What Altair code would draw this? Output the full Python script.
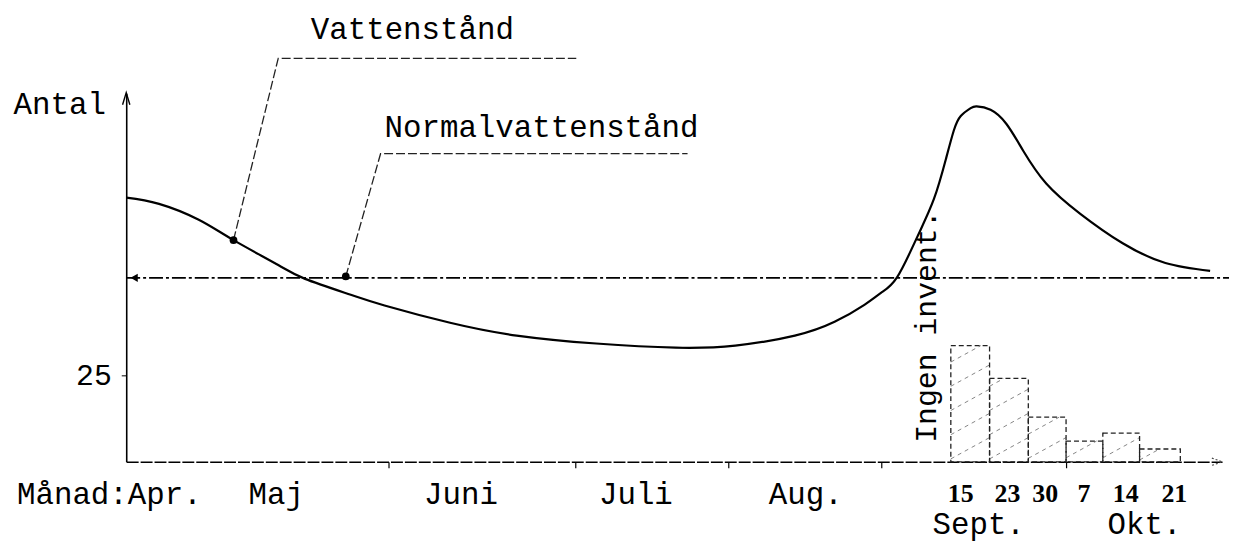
import altair as alt
import pandas as pd

# ---------------- data ----------------
# Vattenstånd curve (time position, level)
curve_t = [0, 3.3, 7.3, 10.8, 15.3, 18.0, 22.6, 26.0, 32.6, 39.3, 47.3, 55.3, 61.3, 67.3,
           71.3, 74.3, 76.0, 77.6, 79.6, 81.3, 82.5, 83.3, 84.0, 85.0, 85.6, 87.0, 88.6,
           90.3, 92.6, 96.0, 100.3, 104.6, 109.1]
curve_v = [76.4, 74.6, 70.0, 64.1, 56.9, 52.9, 48.3, 45.2, 40.2, 36.5, 34.2, 33.0, 33.6, 36.5,
           40.5, 45.4, 48.9, 53.4, 64.9, 76.0, 87.5, 95.8, 100.0, 102.3, 102.8, 101.8, 97.7,
           89.9, 80.5, 71.8, 63.2, 57.5, 55.2]

# Normalvattenstånd
normal_level = 53.2
normal_span = [0, 111]

# Antal (weekly counts, Sept.–Okt.)
bar_start = [83.0, 86.9, 90.8, 94.6, 98.3, 102.0]
bar_end = [86.9, 90.8, 94.6, 98.3, 102.0, 106.1]
bar_count = [33.6, 24.1, 12.9, 6.0, 8.3, 3.7]

# axis ticks
x_ticks = [26.4, 45.2, 60.6, 76.0, 94.6]
y_ticks = [25]

# month labels
month_names = ["Månad:Apr.", "Maj", "Juni", "Juli", "Aug."]
month_pos = [-1.7, 15.1, 33.7, 51.3, 68.4]
month_row = -9.6

# date labels
date_names = ["15", "23", "30", "7", "14", "21"]
date_pos = [84.0, 88.7, 92.5, 96.4, 100.6, 105.5]
date_row = -9.4

season_names = ["Sept.", "Okt."]
season_pos = [85.8, 102.5]
season_row = -18.4

# annotations (leader lines)
leader_id = ["Vattenstånd"] * 3 + ["Normalvattenstånd"] * 3
leader_step = [0, 1, 2, 0, 1, 2]
leader_t = [10.8, 15.3, 45.3, 22.1, 25.6, 56.5]
leader_v = [64.1, 116.7, 116.7, 53.6, 89.1, 89.1]

label_names = ["Vattenstånd", "Normalvattenstånd"]
label_t = [28.8, 41.8]
label_v = [125.0, 96.6]

# ---------------- chart ----------------
XMAX, YMAX = 110.3, 106.6
xs = alt.Scale(domain=[0, XMAX], nice=False, zero=False)
ys = alt.Scale(domain=[0, YMAX], nice=False, zero=False)
MONO = "Liberation Mono"
FS = 31


def X(f, **kw):
    return alt.X(f, type="quantitative", scale=xs, title=None, **kw)


def Y(f, **kw):
    return alt.Y(f, type="quantitative", scale=ys, title=None, **kw)


curve_df = pd.DataFrame({"t": curve_t, "v": curve_v})
curve = alt.Chart(curve_df).mark_line(color="black", strokeWidth=2.2,
                                      interpolate="natural").encode(
    x=X("t", axis=alt.Axis(values=x_ticks, labels=False, tickSize=6, tickColor="black",
                           tickWidth=1.2, domainColor="black", domainWidth=1.6,
                           domainDash=[12, 2], grid=False)),
    y=Y("v", axis=alt.Axis(values=y_ticks, tickSize=5, tickColor="black",
                           domainColor="black", domainWidth=1.6, grid=False,
                           labelFont=MONO, labelFontSize=30, labelColor="black",
                           labelPadding=10)),
)

normal_df = pd.DataFrame({"t0": [normal_span[0]], "t1": [normal_span[1]], "v": [normal_level]})
normal = alt.Chart(normal_df).mark_rule(color="black", strokeWidth=1.6,
                                        strokeDash=[14, 3, 3, 3]).encode(
    x=X("t0"), x2="t1", y=Y("v"))

bars_df = pd.DataFrame({"a": bar_start, "b": bar_end, "n": bar_count, "z": [0] * 6})
bars = alt.Chart(bars_df).mark_rect(fill="white", fillOpacity=0, stroke="#222",
                                    strokeWidth=1.3, strokeDash=[5, 3]).encode(
    x=X("a"), x2="b", y=Y("z"), y2="n")

# light hatching inside each bar, derived from the bar data
hatch_rows = []
for i, (a, b, n) in enumerate(zip(bar_start, bar_end, bar_count)):
    rise = (b - a) * 10 * 0.55 / 3.48  # slope of the hatch strokes in value units
    k = 0
    base = -rise
    while base < n:
        y0 = max(base, 0)
        y1 = min(base + rise, n)
        if y1 > y0:
            t0 = a + (y0 - base) / rise * (b - a)
            t1 = a + (y1 - base) / rise * (b - a)
            hatch_rows.append({"g": f"{i}-{k}", "t": t0, "v": y0, "o": 0})
            hatch_rows.append({"g": f"{i}-{k}", "t": t1, "v": y1, "o": 1})
        base += 7.0
        k += 1
hatch_df = pd.DataFrame(hatch_rows)
hatch = alt.Chart(hatch_df).mark_line(color="#777", strokeWidth=0.9,
                                      strokeDash=[4, 4]).encode(
    x=X("t"), y=Y("v"), detail="g:N", order="o:Q")

leader_df = pd.DataFrame({"id": leader_id, "s": leader_step, "t": leader_t, "v": leader_v})
leaders = alt.Chart(leader_df).mark_line(color="#222", strokeWidth=1.3,
                                         strokeDash=[9, 3]).encode(
    x=X("t"), y=Y("v"), detail="id:N", order="s:Q")
dots = alt.Chart(leader_df[leader_df.s == 0]).mark_circle(color="black", size=60,
                                                          opacity=1).encode(
    x=X("t"), y=Y("v"))

label_df = pd.DataFrame({"txt": label_names, "t": label_t, "v": label_v})
labels = alt.Chart(label_df).mark_text(font=MONO, fontSize=FS, color="black",
                                       baseline="middle").encode(
    x=X("t"), y=Y("v"), text="txt:N")

month_df = pd.DataFrame({"txt": month_names, "t": month_pos, "v": [month_row] * 5})
months = alt.Chart(month_df).mark_text(font=MONO, fontSize=FS, color="black",
                                       baseline="middle").encode(
    x=X("t"), y=Y("v"), text="txt:N")

date_df = pd.DataFrame({"txt": date_names, "t": date_pos, "v": [date_row] * 6})
dates = alt.Chart(date_df).mark_text(font="Liberation Serif", fontSize=26,
                                     fontWeight="bold", color="black",
                                     baseline="middle").encode(
    x=X("t"), y=Y("v"), text="txt:N")

season_df = pd.DataFrame({"txt": season_names, "t": season_pos, "v": [season_row] * 2})
seasons = alt.Chart(season_df).mark_text(font=MONO, fontSize=FS, color="black",
                                         baseline="middle").encode(
    x=X("t"), y=Y("v"), text="txt:N")

antal_df = pd.DataFrame({"txt": ["Antal"], "t": [-6.7], "v": [103.2]})
antal = alt.Chart(antal_df).mark_text(font=MONO, fontSize=FS, color="black",
                                      baseline="middle").encode(
    x=X("t"), y=Y("v"), text="txt:N")

ingen_df = pd.DataFrame({"txt": ["Ingen invent."], "t": [80.6], "v": [39.1]})
ingen = alt.Chart(ingen_df).mark_text(font=MONO, fontSize=30, color="black",
                                      angle=270, baseline="middle").encode(
    x=X("t"), y=Y("v"), text="txt:N")

# arrow heads at the axis ends and on the normal level
yarrow = alt.Chart(pd.DataFrame({"t": [0], "v": [YMAX - 1.6]})).mark_point(
    shape="M-0.6,1L0,-1L0.6,1", filled=False, stroke="black", strokeWidth=1.4,
    size=150, opacity=1).encode(x=X("t"), y=Y("v"))
xarrow = alt.Chart(pd.DataFrame({"t": [XMAX - 0.5], "v": [0]})).mark_point(
    shape="M-1,-0.7L1,0L-1,0.7", filled=False, stroke="#444", strokeWidth=1.1,
    strokeDash=[2, 2], size=110, opacity=1).encode(x=X("t"), y=Y("v"))
narrow = alt.Chart(pd.DataFrame({"t": [0.8], "v": [normal_level]})).mark_point(
    shape="triangle-left", filled=True, color="black", size=70,
    opacity=1).encode(x=X("t"), y=Y("v"))

chart = alt.layer(
    curve, normal, hatch, bars, leaders, dots, labels, months, dates, seasons,
    antal, ingen, yarrow, xarrow, narrow
).properties(
    width=1103, height=371,
    padding={"left": 119, "top": 84, "right": 7, "bottom": 80},
    autosize=alt.AutoSizeParams(type="none"),
    background="white",
).configure_view(stroke=None)

chart.save("out.html", embed_options={"renderer": "svg", "actions": False})
